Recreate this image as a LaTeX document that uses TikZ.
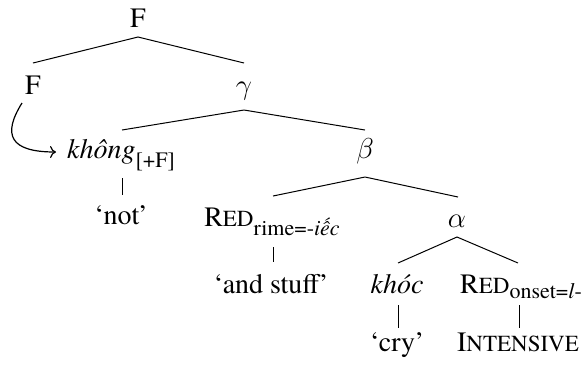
\documentclass[tikz,border=0pt]{standalone}
\usepackage{fontspec}
\setmainfont{TeX Gyre Termes}
\usetikzlibrary{calc,arrows.meta}
\newcommand\subx[2][-4.5pt]{\raisebox{#1}{\fontsize{11}{11}\selectfont #2}}
\newcommand\smcaps[1]{{\fontsize{11.5}{12}\selectfont #1}}
\begin{document}
\begin{tikzpicture}[x=0.5pt,y=-0.5pt,
  every node/.style={inner sep=0pt, anchor=base, font=\fontsize{14}{16}\selectfont},
  branch/.style={line width=0.5pt},
  stem/.style={line width=0.5pt},
  link/.style={line width=0.6pt, -{To[length=3pt,width=6pt]}}]
\useasboundingbox (0,0) rectangle (587,366);
% nodes
\node (F0) at (138,27) {F};
\node (F1) at (33,94) {F};
\node (g) at (244,94) {$\gamma$};
\node (khong) at (121,158) {\textit{không}\subx{[+F]}};
\node (b) at (365,158) {$\beta$};
\node (not) at (121,224) {‘not’};
\node (red1) at (272,226) {R\smcaps{ED}\subx{rime=-\textit{iếc}}};
\node (a) at (457,227) {$\alpha$};
\node (stuff) at (271,293) {‘and stuff’};
\node (khoc) at (397,293) {\textit{khóc}};
\node (red2) at (521,293) {R\smcaps{ED}\subx[-2.5pt]{onset=\textit{l}-}};
\node (cry) at (397,351) {‘cry’};
\node (int) at (518,351) {I\smcaps{NTENSIVE}};
% branches
\draw[branch] ($(F1.base)+(0,-31)$) -- ($(F0.base)+(0,10)$) -- ($(g.base)+(0,-31)$);
\draw[branch] ($(khong.base)+(1,-28)$) -- ($(g.base)+(0,16)$) -- ($(b.base)+(0,-28)$);
\draw[branch] ($(red1.base)+(1,-30)$) -- ($(b.base)+(0,19)$) -- ($(a.base)+(1,-30)$);
\draw[branch] ($(khoc.base)+(1,-30)$) -- ($(a.base)+(0,10)$) -- ($(red2.base)+(-3,-30)$);
% stems
\draw[stem] ($(khong.base)+(1,20)$) -- ($(not.base)+(1,-29)$);
\draw[stem] ($(red1.base)+(1,21)$) -- ($(stuff.base)+(2,-31)$);
\draw[stem] ($(khoc.base)+(1,12)$) -- ($(cry.base)+(1,-23)$);
\draw[stem] ($(red2.base)+(-2,12)$) -- ($(int.base)+(1,-23)$);
% arrow
\draw[link] ($(F1.base)+(-11,9)$) .. controls +(-20,32) and +(-46,0) .. ($(khong.base)+(-65,-6)$);
\end{tikzpicture}
\end{document}
